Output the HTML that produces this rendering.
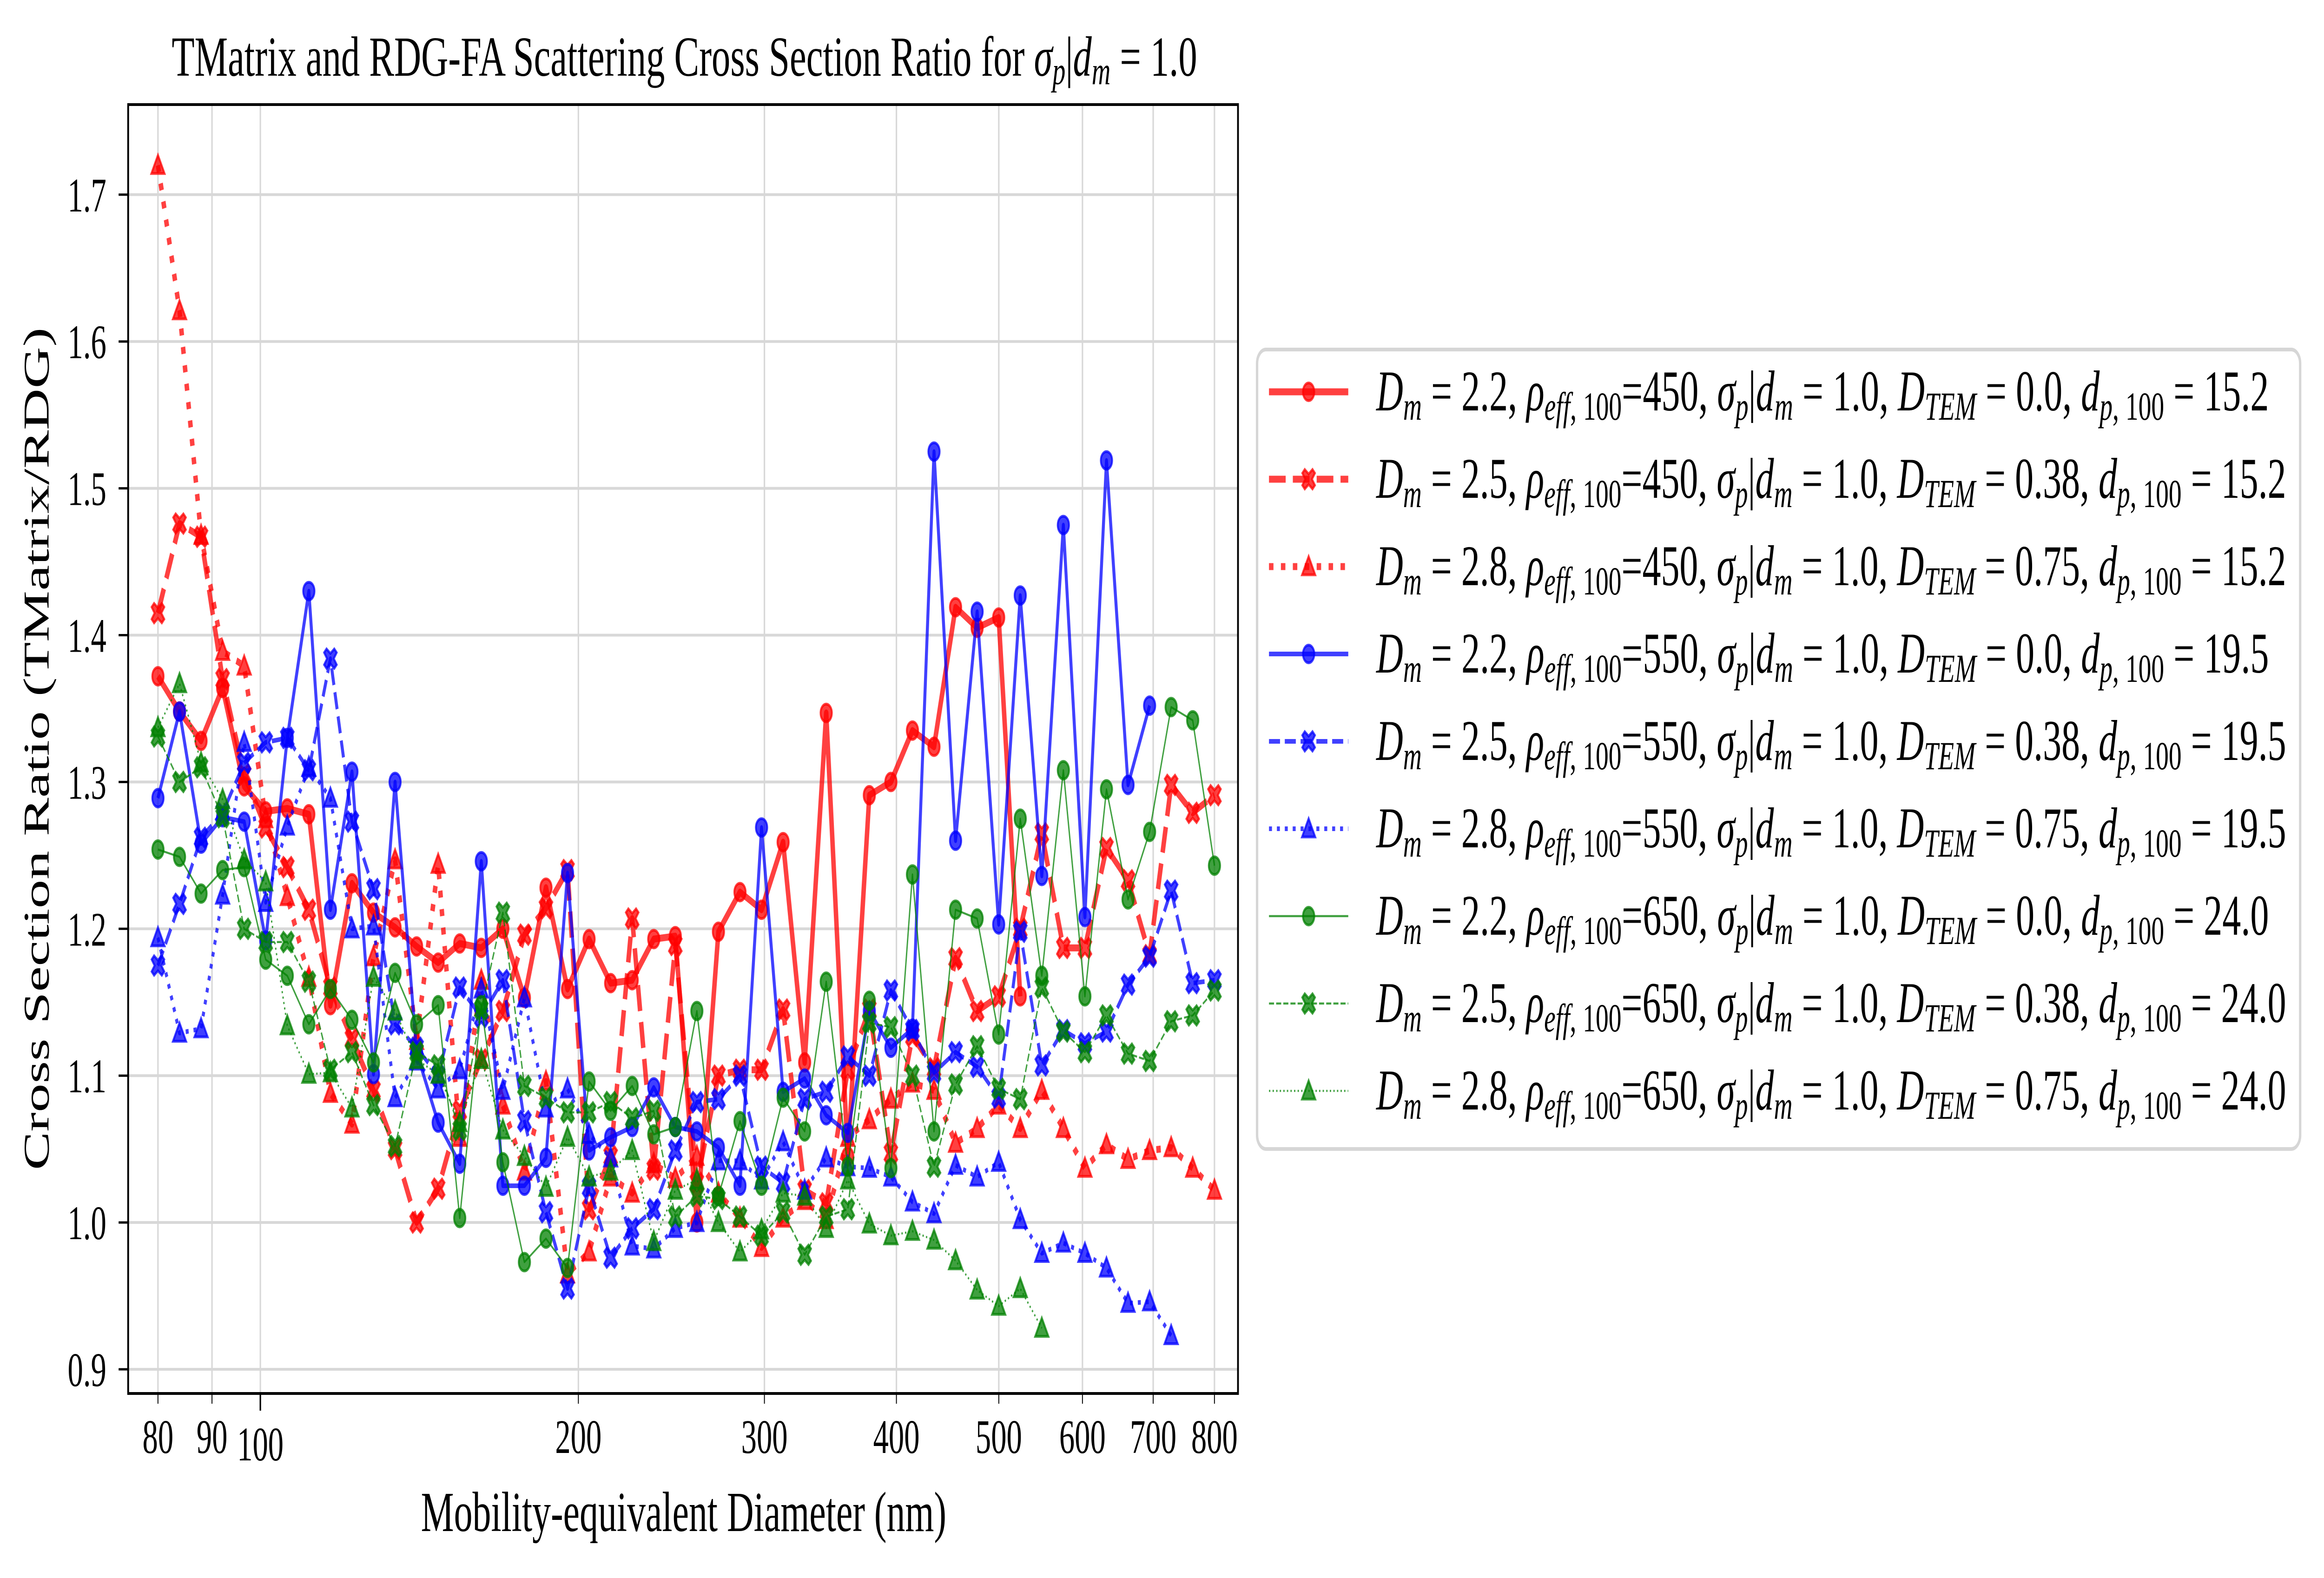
<!DOCTYPE html>
<html><head><meta charset="utf-8"><style>
html,body{margin:0;padding:0;background:#fff;overflow:hidden;width:100%;height:100%;}
svg{display:block;font-family:"Liberation Serif","DejaVu Serif",serif;width:100vw;height:100vh;}
</style></head><body>
<svg id="chart" xmlns="http://www.w3.org/2000/svg" viewBox="0 0 7798 3395" preserveAspectRatio="none">
<rect x="0" y="0" width="7798" height="3395" fill="#fff"/>
<g id="grid"></g>
<g id="series"></g>
<rect x="430" y="225" width="3724" height="2773" fill="none" stroke="#000" stroke-width="6"/>
<g id="axes"></g>
<text x="576" y="163" font-size="122" textLength="3441" lengthAdjust="spacingAndGlyphs">TMatrix and RDG-FA Scattering Cross Section Ratio for <tspan font-style="italic">σ</tspan><tspan font-style="italic" font-size="85" dy="18">p</tspan><tspan dy="-18">|</tspan><tspan font-style="italic">d</tspan><tspan font-style="italic" font-size="85" dy="18">m</tspan><tspan dy="-18"> = 1.0</tspan></text>
<text x="2294" y="3294" font-size="122" text-anchor="middle" textLength="1763" lengthAdjust="spacingAndGlyphs">Mobility-equivalent Diameter (nm)</text>
<text transform="translate(163,1611) rotate(-90)" font-size="122" text-anchor="middle" textLength="1813" lengthAdjust="spacingAndGlyphs">Cross Section Ratio (TMatrix/RDG)</text>
<g id="legend">
<rect x="4218" y="752" width="3500" height="1720" rx="30" fill="#fff" stroke="#d6d6d6" stroke-width="8"/>
</g>
</svg>
<script>
const diameters=[80,83.85,87.88,92.11,96.54,101.18,106.05,111.15,116.50,122.10,127.97,134.13,140.58,147.34,154.43,161.86,169.65,177.81,186.36,195.33,204.72,214.57,224.89,235.71,247.05,258.93,271.39,284.44,298.13,312.47,327.50,343.25,359.77,377.07,395.21,414.22,434.15,455.04,476.93,499.87,523.92,549.12,575.54,603.22,632.24,662.66,694.54,727.95,762.97,800];
const r1=[1.372,1.348,1.328,1.364,1.297,1.280,1.282,1.278,1.148,1.231,1.211,1.201,1.188,1.177,1.190,1.187,1.200,1.153,1.228,1.159,1.193,1.163,1.165,1.193,1.195,1.000,1.198,1.225,1.213,1.259,1.109,1.347,1.045,1.291,1.300,1.335,1.324,1.419,1.405,1.412,1.154,null,null,null,null,null,null,null,null,null];
const r2=[1.415,1.476,1.467,1.370,1.305,1.269,1.242,1.213,1.160,1.125,1.090,1.050,1.000,1.023,1.076,1.111,1.144,1.196,1.214,1.240,1.009,1.045,1.207,1.036,1.189,1.027,1.100,1.104,1.104,1.145,1.022,1.013,1.104,1.145,1.047,1.127,1.105,1.180,1.144,1.154,1.200,1.265,1.187,1.187,1.255,1.233,1.182,1.298,1.279,1.291];
const r3=[1.720,1.621,1.468,1.389,1.379,1.275,1.222,1.167,1.088,1.067,1.181,1.247,1.124,1.244,1.058,1.165,1.080,1.035,1.096,0.965,0.980,1.031,1.020,1.040,1.030,1.045,1.020,1.003,0.983,1.003,1.015,1.002,1.058,1.070,1.084,1.095,1.090,1.054,1.064,1.080,1.064,1.090,1.064,1.037,1.053,1.043,1.049,1.051,1.037,1.022];
const b1=[1.289,1.348,1.258,1.276,1.273,1.192,1.330,1.430,1.213,1.307,1.101,1.300,1.116,1.068,1.040,1.246,1.025,1.025,1.044,1.238,1.049,1.058,1.065,1.092,1.065,1.062,1.051,1.025,1.269,1.089,1.098,1.073,1.061,1.144,1.119,1.132,1.525,1.260,1.416,1.203,1.427,1.236,1.475,1.208,1.519,1.298,1.352,null,null,null];
const b2=[1.175,1.217,1.262,1.279,1.313,1.327,1.330,1.308,1.384,1.273,1.227,1.135,1.119,1.100,1.160,1.140,1.165,1.069,1.007,0.955,1.024,0.976,0.996,1.009,1.049,1.082,1.084,1.100,1.038,1.027,1.084,1.089,1.113,1.100,1.158,1.131,1.102,1.116,1.106,1.085,1.198,1.107,1.131,1.122,1.130,1.162,1.181,1.226,1.163,1.165];
const b3=[1.194,1.129,1.132,1.223,1.327,1.218,1.270,1.310,1.289,1.200,1.202,1.085,1.110,1.091,1.104,1.159,1.090,1.153,1.078,1.091,1.060,1.044,0.984,0.982,0.996,1.000,1.042,1.042,1.029,1.055,1.022,1.044,1.038,1.037,1.031,1.014,1.006,1.039,1.031,1.041,1.002,0.979,0.986,0.979,0.969,0.945,0.946,0.923,null,null];
const g1=[1.254,1.249,1.224,1.240,1.242,1.179,1.168,1.135,1.159,1.138,1.109,1.170,1.135,1.148,1.003,1.148,1.041,0.973,0.989,0.969,1.096,1.076,1.093,1.060,1.065,1.144,1.018,1.069,1.025,1.085,1.062,1.164,1.038,1.151,1.037,1.237,1.062,1.213,1.207,1.128,1.275,1.168,1.308,1.154,1.295,1.220,1.266,1.351,1.342,1.243];
const g2=[1.331,1.300,1.310,1.276,1.200,1.191,1.191,1.164,1.104,1.116,1.080,1.052,1.116,1.107,1.063,1.145,1.211,1.093,1.085,1.075,1.075,1.082,1.071,1.076,1.004,1.018,1.016,1.004,0.991,1.007,0.978,1.004,1.009,1.136,1.133,1.100,1.038,1.094,1.120,1.091,1.084,1.160,1.130,1.116,1.141,1.115,1.110,1.137,1.141,1.158];
const g3=[1.337,1.367,1.313,1.288,1.247,1.232,1.134,1.101,1.102,1.078,1.167,1.144,1.111,1.101,1.068,1.111,1.063,1.045,1.024,1.058,1.031,1.035,1.049,0.987,1.022,1.029,1.000,0.980,0.995,1.020,1.018,0.996,1.029,0.999,0.991,0.994,0.988,0.974,0.954,0.943,0.955,0.928,null,null,null,null,null,null,null,null];
const xTicks=[80,90,100,200,300,400,500,600,700,800];
const xTickLabels=["80","90","100","200","300","400","500","600","700","800"];
const yTicks=[0.9,1.0,1.1,1.2,1.3,1.4,1.5,1.6,1.7];
const yTickLabels=["0.9","1.0","1.1","1.2","1.3","1.4","1.5","1.6","1.7"];
const dmVals=["2.2","2.5","2.8","2.2","2.5","2.8","2.2","2.5","2.8"];
const rhoVals=["450","450","450","550","550","550","650","650","650"];
const temVals=["0.0","0.38","0.75","0.0","0.38","0.75","0.0","0.38","0.75"];
const dpVals=["15.2","15.2","15.2","19.5","19.5","19.5","24.0","24.0","24.0"];

const NS="http://www.w3.org/2000/svg";
function X(v){return 530+3545*Math.log10(v/80);}
function Y(v){return 2946-(v-0.9)*3159;}
function mk(tag,attrs,parent){const e=document.createElementNS(NS,tag);for(const k in attrs)e.setAttribute(k,attrs[k]);parent.appendChild(e);return e;}

const grid=document.getElementById('grid');
const axes=document.getElementById('axes');
xTicks.forEach((t,i)=>{
  const gl=mk('line',{x1:X(t),x2:X(t),y1:225,y2:2998,stroke:'#d8d8d8','stroke-width':5},grid);
  
  
  const major=(t===100);
  const tk=mk('line',{x1:X(t),x2:X(t),y1:2998,y2:major?3035:3020,stroke:'#000','stroke-width':major?5:3},axes);
  
  
  const lb=mk('text',{x:X(t),y:major?3142:3126,'font-size':104,'text-anchor':'middle'},axes);
  lb.textContent=xTickLabels[i];
  
  
});
yTicks.forEach((t,i)=>{
  const gl=mk('line',{x1:430,x2:4154,y1:Y(t),y2:Y(t),stroke:'#d8d8d8','stroke-width':6},grid);
  
  
  const tk=mk('line',{x1:398,x2:430,y1:Y(t),y2:Y(t),stroke:'#000','stroke-width':5},axes);
  
  
  const lb=mk('text',{x:357,y:Y(t)+36,'font-size':104,'text-anchor':'end'},axes);
  lb.textContent=yTickLabels[i];
  
  
});

const styles=[
 {vals:r1,color:'#ff0000',lw:15,dash:null,m:'o'},
 {vals:r2,color:'#ff0000',lw:15,dash:'56 24',m:'X'},
 {vals:r3,color:'#ff0000',lw:15,dash:'15 25',m:'^'},
 {vals:b1,color:'#0000ff',lw:10,dash:null,m:'o'},
 {vals:b2,color:'#0000ff',lw:10,dash:'37 16',m:'X'},
 {vals:b3,color:'#0000ff',lw:10,dash:'10 16.5',m:'^'},
 {vals:g1,color:'#008000',lw:4.5,dash:null,m:'o'},
 {vals:g2,color:'#008000',lw:4.5,dash:'17 7',m:'X'},
 {vals:g3,color:'#008000',lw:4.5,dash:'4.5 7.5',m:'^'}
];
function marker(type,cx,cy,color,parent){
  let e;
  const common={fill:color,'fill-opacity':0.75,stroke:color,'stroke-opacity':0.75,'stroke-width':6};
  if(type==='o'){e=mk('ellipse',Object.assign({cx:cx,cy:cy,rx:19,ry:19},common),parent);}
  else if(type==='^'){const s=22;e=mk('polygon',Object.assign({points:`${cx},${cy-s} ${cx+s},${cy+s*0.8} ${cx-s},${cy+s*0.8}`},common),parent);}
  else{const a=21,b=8;const p=[[-a+b,-a],[0,-b*1.4],[a-b,-a],[a,-a+b],[b*1.4,0],[a,a-b],[a-b,a],[0,b*1.4],[-a+b,a],[-a,a-b],[-b*1.4,0],[-a,-a+b]];
    e=mk('polygon',Object.assign({points:p.map(q=>(cx+q[0])+','+(cy+q[1])).join(' ')},common),parent);}
  return e;
}
const layer=document.getElementById('series');
styles.forEach((s,si)=>{
  const g=mk('g',{},layer);
  
  
  let d='';
  s.vals.forEach((v,i)=>{if(v===null)return;d+=(d?'L':'M')+X(diameters[i]).toFixed(1)+','+Y(v).toFixed(1);});
  const attrs={d:d,fill:'none',stroke:s.color,'stroke-opacity':0.75,'stroke-width':s.lw,'stroke-linejoin':'round'};
  if(s.dash)attrs['stroke-dasharray']=s.dash;
  const p=mk('path',attrs,g);
  
  
  s.vals.forEach((v,i)=>{if(v===null)return;
    const m=marker(s.m,X(diameters[i]),Y(v),s.color,g);
    
    
  });
});

const legend=document.getElementById('legend');
styles.forEach((s,i)=>{
  const y=843+188*i;
  const g=mk('g',{},legend);
  
  
  const la={x1:4258,x2:4524,y1:y,y2:y,stroke:s.color,'stroke-opacity':0.75,'stroke-width':s.lw};
  if(s.dash)la['stroke-dasharray']=s.dash;
  const ln=mk('line',la,g);
  
  
  const m=marker(s.m,4391,y,s.color,g);
  
  
  const wide=temVals[i].length>3;
  const t=mk('text',{x:4618,y:y+40,'font-size':124,textLength:wide?3053:2995,lengthAdjust:'spacingAndGlyphs'},g);
  
  
  t.innerHTML=`<tspan font-style="italic">D</tspan><tspan font-style="italic" font-size="86" dy="20">m</tspan><tspan dy="-20"> = ${dmVals[i]}, </tspan><tspan font-style="italic">ρ</tspan><tspan font-style="italic" font-size="86" dy="20">eff</tspan><tspan font-size="86">, 100</tspan><tspan dy="-20">=${rhoVals[i]}, </tspan><tspan font-style="italic">σ</tspan><tspan font-style="italic" font-size="86" dy="20">p</tspan><tspan dy="-20">|</tspan><tspan font-style="italic">d</tspan><tspan font-style="italic" font-size="86" dy="20">m</tspan><tspan dy="-20"> = 1.0, </tspan><tspan font-style="italic">D</tspan><tspan font-style="italic" font-size="86" dy="20">TEM</tspan><tspan dy="-20"> = ${temVals[i]}, </tspan><tspan font-style="italic">d</tspan><tspan font-style="italic" font-size="86" dy="20">p</tspan><tspan font-size="86">, 100</tspan><tspan dy="-20"> = ${dpVals[i]}</tspan>`;
});
</script>
</body></html>
